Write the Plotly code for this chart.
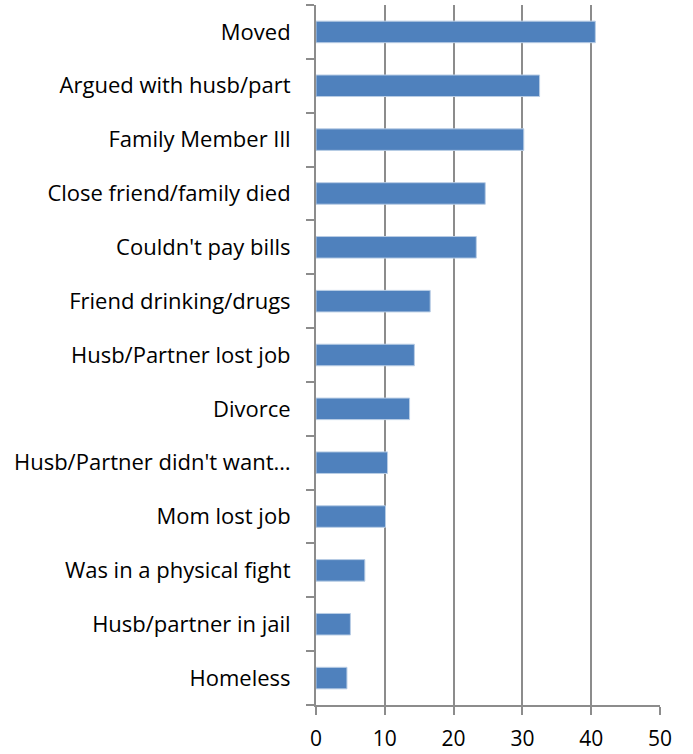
import plotly.graph_objects as go

# Life events, listed top to bottom
categories = [
    "Moved",
    "Argued with husb/part",
    "Family Member Ill",
    "Close friend/family died",
    "Couldn't pay bills",
    "Friend drinking/drugs",
    "Husb/Partner lost job",
    "Divorce",
    "Husb/Partner didn't want…",
    "Mom lost job",
    "Was in a physical fight",
    "Husb/partner in jail",
    "Homeless",
]
values = [40.6, 32.5, 30.2, 24.6, 23.3, 16.6, 14.3, 13.6, 10.4, 10.1, 7.1, 5.0, 4.5]
x_ticks = [0, 10, 20, 30, 40, 50]

FONT = "Open Sans"
GRID = "#8c8c8c"

fig = go.Figure(
    go.Bar(
        x=values,
        y=categories,
        orientation="h",
        width=0.4,
        marker=dict(color="#4f81bd", line=dict(color="#b9cde5", width=1)),
    )
)

fig.update_layout(
    width=693,
    height=754,
    margin=dict(l=316, r=33, t=5, b=49),
    paper_bgcolor="white",
    plot_bgcolor="white",
    showlegend=False,
    font=dict(family=FONT, size=22, color="black"),
)

fig.update_xaxes(
    range=[0, 50],
    tickvals=x_ticks,
    ticktext=[str(v) for v in x_ticks],
    showgrid=True,
    gridcolor=GRID,
    gridwidth=2,
    zeroline=False,
    showline=True,
    linecolor=GRID,
    linewidth=2,
    ticks="outside",
    ticklen=8,
    tickwidth=2,
    tickcolor=GRID,
    ticklabelstandoff=6,
    automargin=False,
    tickfont=dict(family=FONT, size=21, color="black"),
)

fig.update_yaxes(
    categoryorder="array",
    categoryarray=categories[::-1],
    autorange=False,
    range=[-0.5, len(categories) - 0.5],
    showgrid=False,
    zeroline=False,
    showline=True,
    linecolor=GRID,
    linewidth=2,
    ticks="outside",
    tickson="boundaries",
    ticklen=8,
    tickwidth=2,
    tickcolor=GRID,
    ticklabelstandoff=19,
    automargin=False,
    tickfont=dict(family=FONT, size=22, color="black"),
)

fig.write_html("out.html")
